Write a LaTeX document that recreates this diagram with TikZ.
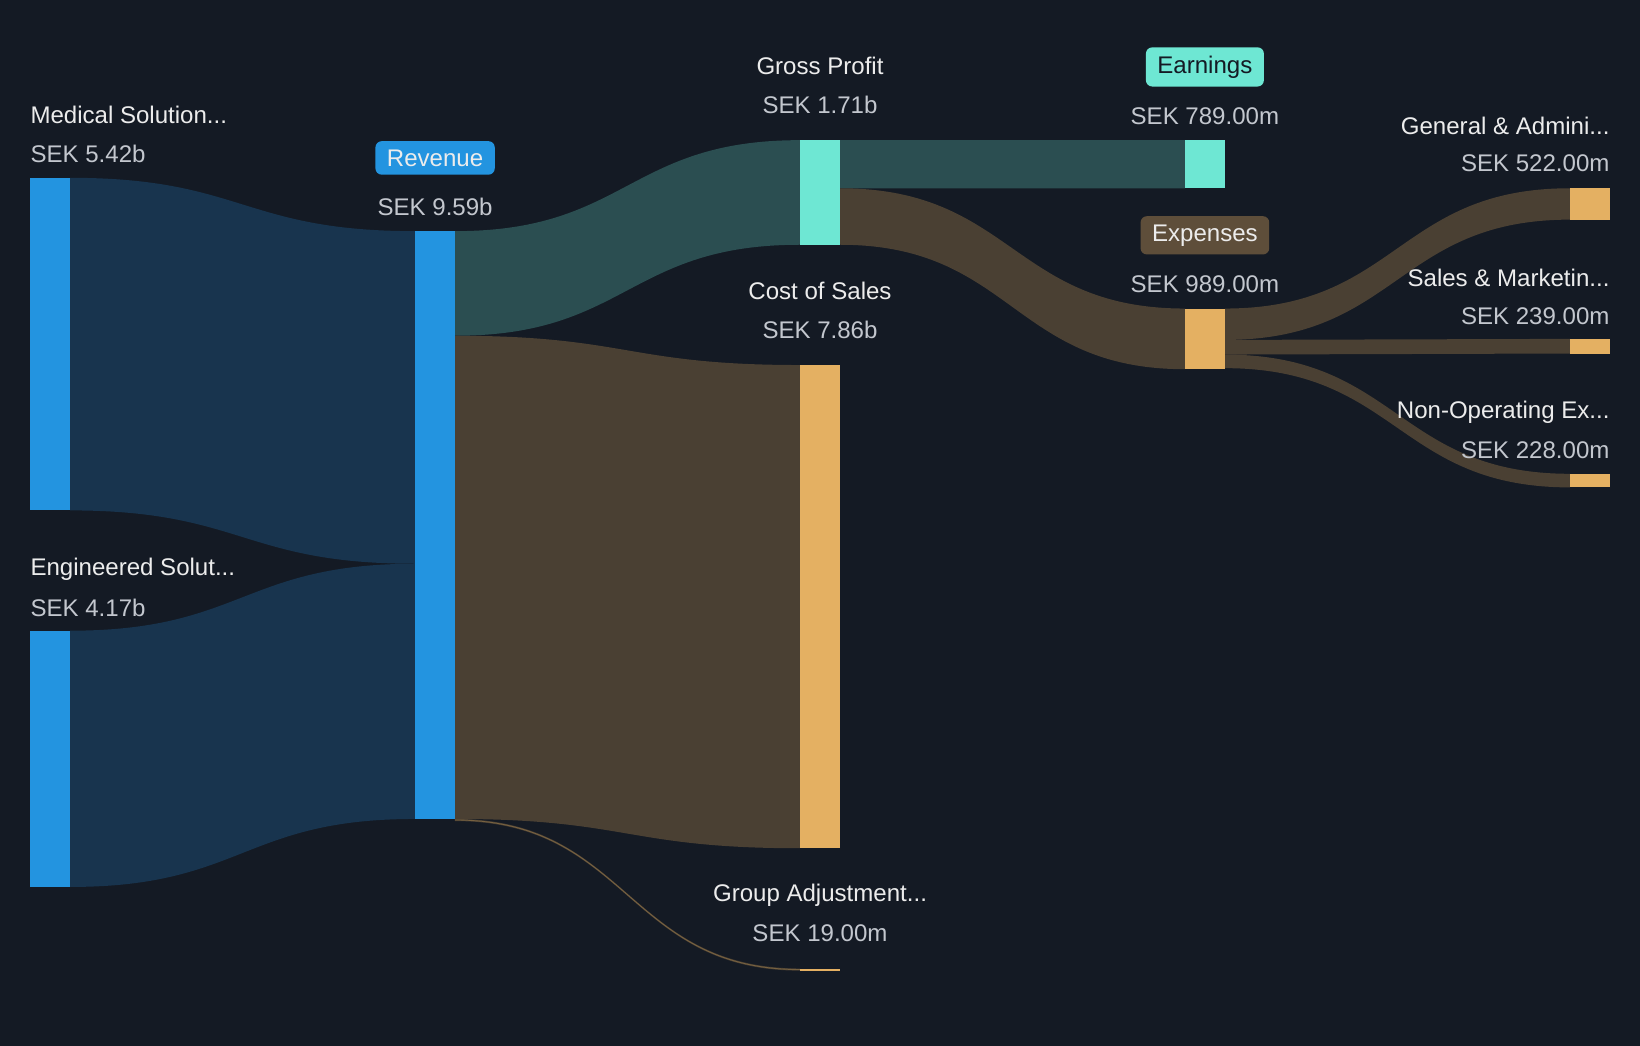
\documentclass[tikz,border=0pt]{standalone}
\usepackage{fontspec}
\setmainfont{Liberation Sans}
\definecolor{bg}{HTML}{141A24}
\definecolor{blue}{HTML}{2394E0}
\definecolor{bluel}{HTML}{18344E}
\definecolor{teal}{HTML}{6EE7D3}
\definecolor{teall}{HTML}{2B4E51}
\definecolor{tan}{HTML}{E4B062}
\definecolor{tanl}{HTML}{4A4033}
\definecolor{brownpill}{HTML}{5E4E3A}
\definecolor{ttl}{HTML}{ECECEC}
\definecolor{val}{HTML}{C3C7CE}
\newcommand{\flow}[7]{%
  \pgfmathsetmacro{\xm}{(#1+#4)/2}%
  \fill[#7] (#1,#2) .. controls (\xm,#2) and (\xm,#5) .. (#4,#5) -- (#4,#6) .. controls (\xm,#6) and (\xm,#3) .. (#1,#3) -- cycle;}
\begin{document}
\begin{tikzpicture}[x=1pt,y=-1pt,
  bar/.style={inner sep=0pt,outer sep=0pt},
  ttl/.style={text=ttl,font=\fontsize{23}{26}\selectfont,inner sep=0pt},
  val/.style={text=val,font=\fontsize{23}{26}\selectfont,inner sep=0pt},
  pill/.style={rounded corners=6pt,inner xsep=11pt,inner ysep=8pt,font=\fontsize{23}{26}\selectfont}]
\fill[bg] (0,0) rectangle (1568,1000);
\useasboundingbox (0,0) rectangle (1568,1000);
% flows
\flow{67}{170}{488}{397}{221}{539}{bluel}
\flow{67}{603}{848}{397}{539}{783}{bluel}
\flow{435}{221}{321}{765}{134}{234}{teall}
\flow{435}{321}{783}{765}{349}{811}{tanl}
\flow{435}{783}{785}{765}{926}{928}{tanl}
\flow{803}{134}{180}{1133}{134}{180}{teall}
\flow{803}{180}{234}{1133}{295}{353}{tanl}
\flow{1171}{295}{325}{1501}{180}{210}{tanl}
\flow{1171}{325}{339}{1501}{324}{338}{tanl}
\flow{1171}{339}{352}{1501}{453}{466}{tanl}
\draw[tanl!70!tan,line width=0.8pt] (435,784) .. controls (600,784) and (600,927) .. (765,927);
% bars
\fill[blue] (29,170) rectangle (67,488) node[bar] (med) {};
\fill[blue] (29,603) rectangle (67,848) node[bar] (eng) {};
\fill[blue] (397,221) rectangle (435,783) node[bar] (rev) {};
\fill[teal] (765,134) rectangle (803,234) node[bar] (gp) {};
\fill[tan] (765,349) rectangle (803,811) node[bar] (cos) {};
\fill[tan] (765,926) rectangle (803,928) node[bar] (ga) {};
\fill[teal] (1133,134) rectangle (1171,180) node[bar] (ear) {};
\fill[tan] (1133,295) rectangle (1171,353) node[bar] (exp) {};
\fill[tan] (1501,180) rectangle (1539,210) node[bar] (gna) {};
\fill[tan] (1501,324) rectangle (1539,338) node[bar] (snm) {};
\fill[tan] (1501,453) rectangle (1539,466) node[bar] (nop) {};
% labels
\node[ttl,anchor=west] (l1) at (29,110) {Medical Solution...};
\node[val,anchor=west] (v1) at (29,147) {SEK 5.42b};
\node[ttl,anchor=west] (l2) at (29,544) {Engineered Solut...};
\node[val,anchor=west] (v2) at (29,581) {SEK 4.17b};
\node[pill,fill=blue,text=ttl] (l3) at (416,151) {Revenue};
\node[val] (v3) at (416,198) {SEK 9.59b};
\node[ttl] (l4) at (784,63) {Gross Profit};
\node[val] (v4) at (784,100) {SEK 1.71b};
\node[ttl] (l5) at (784,278) {Cost of Sales};
\node[val] (v5) at (784,315) {SEK 7.86b};
\node[ttl] (l6) at (784,856) {Group Adjustment...};
\node[val] (v6) at (784,892) {SEK 19.00m};
\node[pill,fill=teal,text=bg] (l7) at (1152,64) {Earnings};
\node[val] (v7) at (1152,111) {SEK 789.00m};
\node[pill,fill=brownpill,text=ttl] (l8) at (1152,225) {Expenses};
\node[val] (v8) at (1152,272) {SEK 989.00m};
\node[ttl,anchor=east] (l9) at (1539,120) {General \& Admini...};
\node[val,anchor=east] (v9) at (1539,156) {SEK 522.00m};
\node[ttl,anchor=east] (l10) at (1539,266) {Sales \& Marketin...};
\node[val,anchor=east] (v10) at (1539,302) {SEK 239.00m};
\node[ttl,anchor=east] (l11) at (1539,394) {Non-Operating Ex...};
\node[val,anchor=east] (v11) at (1539,430) {SEK 228.00m};
\end{tikzpicture}
\end{document}
